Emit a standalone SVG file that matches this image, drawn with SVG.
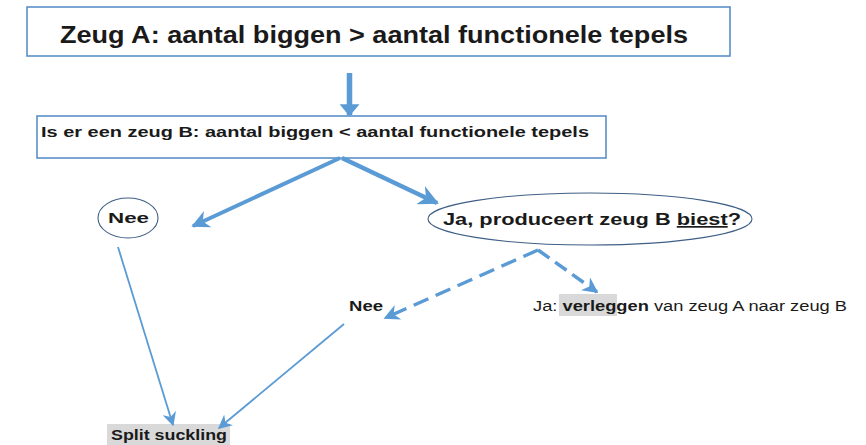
<svg xmlns="http://www.w3.org/2000/svg" width="866" height="445" viewBox="0 0 866 445">
<style>
.t{font-family:"Liberation Sans","Open Sans",Arial,sans-serif;fill:#1a1a1a}
.b{font-weight:bold}
.box{fill:#fff;stroke:#5b8fc9;stroke-width:1.6}
.ell{fill:#fff;stroke:#3e5f86;stroke-width:1.1}
.ln{stroke:#5b9bd5;fill:none;stroke-linecap:butt}
</style>
<defs>
<marker id="ah" viewBox="0 0 10 10" refX="9" refY="5" markerWidth="4.5" markerHeight="4.5" orient="auto" markerUnits="strokeWidth">
<path d="M0,0 L10,5 L0,10 L3,5 Z" fill="#5b9bd5"/>
</marker>
<marker id="ahs" viewBox="0 0 10 10" refX="9" refY="5" markerWidth="14" markerHeight="14" orient="auto" markerUnits="userSpaceOnUse">
<path d="M0,0 L10,5 L0,10 L3,5 Z" fill="#5b9bd5"/>
</marker>
<marker id="ahd" viewBox="0 0 10 10" refX="9" refY="5" markerWidth="12" markerHeight="20" orient="auto" markerUnits="userSpaceOnUse" preserveAspectRatio="none">
<path d="M0,0 L10,5 L0,10 Z" fill="#5b9bd5"/>
</marker>
</defs>
<rect width="866" height="445" fill="#fff"/>
<g id="nodeA">
<rect class="box" x="27" y="7" width="703" height="49"/>
<text class="t b" x="60" y="43" font-size="24" textLength="628" lengthAdjust="spacingAndGlyphs">Zeug A: aantal biggen &gt;  aantal functionele tepels</text>
</g>
<g id="nodeB">
<rect class="box" x="37" y="116" width="569" height="42"/>
<text class="t b" x="41" y="137" font-size="15" textLength="548" lengthAdjust="spacingAndGlyphs">Is er een  zeug B: aantal biggen &lt; aantal functionele tepels</text>
</g>
<g id="nodeNee1">
<ellipse class="ell" cx="128" cy="218" rx="30" ry="20"/>
<text class="t b" x="108" y="223" font-size="15" textLength="41" lengthAdjust="spacingAndGlyphs">Nee</text>
</g>
<g id="nodeJa">
<ellipse class="ell" cx="590" cy="219" rx="162" ry="26"/>
<text class="t b" x="443" y="225" font-size="17" textLength="298" lengthAdjust="spacingAndGlyphs">Ja,  produceert zeug B <tspan text-decoration="underline">biest</tspan>?</text>
</g>
<g id="nodeNee2">
<text class="t b" x="349" y="311" font-size="14" textLength="34" lengthAdjust="spacingAndGlyphs">Nee</text>
</g>
<g id="nodeVerleggen">
<rect x="559" y="294" width="58" height="22" fill="#d9d9d9"/>
<text class="t" x="533" y="311" font-size="14" textLength="314" lengthAdjust="spacingAndGlyphs">Ja: <tspan class="b">verleggen</tspan> van zeug A naar zeug B</text>
</g>
<g id="nodeSplit">
<rect x="107" y="424" width="123" height="21" fill="#d9d9d9"/>
<text class="t b" x="111" y="440" font-size="14" textLength="116" lengthAdjust="spacingAndGlyphs">Split suckling</text>
</g>
<g id="connectors">
<line class="ln" x1="349.5" y1="73" x2="349.5" y2="115" stroke-width="5.5" marker-end="url(#ahd)"/>
<line class="ln" x1="340" y1="158" x2="193" y2="226" stroke-width="4" marker-end="url(#ah)"/>
<line class="ln" x1="342" y1="158" x2="437" y2="203" stroke-width="4.5" marker-end="url(#ah)"/>
<line class="ln" x1="538" y1="250" x2="385" y2="318" stroke-width="3.5" stroke-dasharray="16,8" marker-end="url(#ah)"/>
<line class="ln" x1="538" y1="250" x2="597" y2="292" stroke-width="3.5" stroke-dasharray="14,7" marker-end="url(#ah)"/>
<line class="ln" x1="118" y1="247" x2="173" y2="425" stroke-width="1.8" marker-end="url(#ahs)"/>
<line class="ln" x1="344" y1="324" x2="219" y2="428" stroke-width="1.8" marker-end="url(#ahs)"/>
</g>
</svg>
